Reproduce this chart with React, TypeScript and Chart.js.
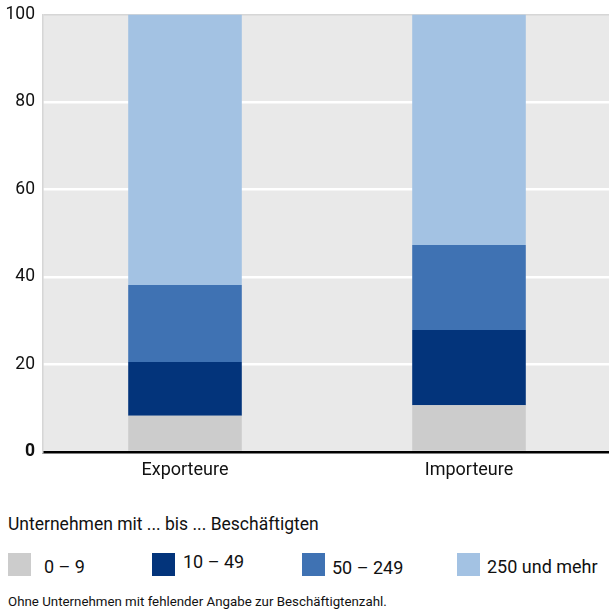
import React, { useEffect, useRef } from "react";
import { Chart, registerables } from "chart.js";

Chart.register(...registerables);

const categories = ["Exporteure", "Importeure"];
const seriesLabels = ["0 – 9", "10 – 49", "50 – 249", "250 und mehr"];
const s0to9 = [8.3, 10.7];
const s10to49 = [12.3, 17.2];
const s50to249 = [17.6, 19.4];
const s250plus = [61.8, 52.7];
const seriesColors = ["#cccccc", "#03347b", "#3f72b3", "#a3c2e3"];
const yTicks = [0, 20, 40, 60, 80, 100];

const FONT = "Roboto, 'Open Sans', sans-serif";

const bgPlugin = {
  id: "plotBg",
  beforeDraw(chart: any) {
    const { ctx, chartArea } = chart;
    ctx.save();
    ctx.fillStyle = "#e9e9e9";
    ctx.fillRect(chartArea.left, chartArea.top, chartArea.right - chartArea.left, chartArea.bottom - chartArea.top);
    ctx.restore();
  },
};

export default function App() {
  const ref = useRef<HTMLCanvasElement>(null);
  useEffect(() => {
    const values = [s0to9, s10to49, s50to249, s250plus];
    const chart = new Chart(ref.current!, {
      type: "bar",
      data: {
        labels: categories,
        datasets: values.map((d, i) => ({
          label: seriesLabels[i],
          data: d,
          backgroundColor: seriesColors[i],
          borderWidth: 0,
          barPercentage: 0.4,
          categoryPercentage: 1,
        })),
      },
      options: {
        animation: false,
        responsive: false,
        maintainAspectRatio: false,
        layout: { padding: { top: 14.5, left: 0, right: 0, bottom: 0 } },
        plugins: { legend: { display: false }, tooltip: { enabled: false } },
        scales: {
          x: {
            stacked: true,
            grid: { display: false, drawTicks: false },
            border: { display: true, color: "#000", width: 2.5 },
            ticks: { color: "#111", font: { family: FONT, size: 18 }, padding: 8 },
            afterFit(scale: any) {
              scale.height = 38;
            },
          },
          y: {
            stacked: true,
            min: 0,
            max: 100,
            afterBuildTicks(scale: any) {
              scale.ticks = yTicks.map((v) => ({ value: v }));
            },
            grid: {
              drawTicks: false,
              lineWidth: (c: any) => (c.tick && c.tick.value === 100 ? 1.5 : 2.5),
              color: (c: any) =>
                c.tick && c.tick.value === 0 ? "rgba(0,0,0,0)" : c.tick && c.tick.value === 100 ? "#d6d6d6" : "#ffffff",
            },
            border: { display: true, color: "#d6d6d6", width: 1.5 },
            ticks: {
              color: "#111",
              padding: 8,
              font: (c: any) => ({
                family: FONT,
                size: 17.5,
                weight: c.tick && c.tick.value === 0 ? "bold" : "normal",
              }),
            },
            afterFit(scale: any) {
              scale.width = 43;
              scale.paddingTop = 0;
              scale.paddingBottom = 0;
            },
          },
        },
      },
      plugins: [bgPlugin],
    });
    return () => chart.destroy();
  }, []);

  const legendPos = [
    { box: 8, text: 44, top: 555 },
    { box: 152, text: 183, top: 550 },
    { box: 302, text: 332, top: 556 },
    { box: 457, text: 487, top: 555 },
  ];

  return (
    <div
      style={{
        position: "absolute",
        left: 0,
        top: 0,
        width: 609,
        height: 611,
        overflow: "hidden",
        background: "#fff",
        fontFamily: FONT,
        color: "#111",
      }}
    >
      <canvas ref={ref} width={611} height={490} style={{ position: "absolute", left: 0, top: 0, width: 611, height: 490 }} />
      <div style={{ position: "absolute", left: 8, top: 512, fontSize: 17.5, lineHeight: "24px", whiteSpace: "nowrap" }}>
        Unternehmen mit ... bis ... Beschäftigten
      </div>
      {seriesLabels.map((l, i) => (
        <React.Fragment key={l}>
          <div
            style={{
              position: "absolute",
              left: legendPos[i].box,
              top: 553,
              width: 23,
              height: 23,
              background: seriesColors[i],
            }}
          />
          <div
            style={{
              position: "absolute",
              left: legendPos[i].text,
              top: legendPos[i].top,
              fontSize: 18,
              lineHeight: "24px",
              whiteSpace: "nowrap",
            }}
          >
            {l}
          </div>
        </React.Fragment>
      ))}
      <div style={{ position: "absolute", left: 8, top: 592, fontSize: 13.3, lineHeight: "20px", whiteSpace: "nowrap" }}>
        Ohne Unternehmen mit fehlender Angabe zur Beschäftigtenzahl.
      </div>
    </div>
  );
}
